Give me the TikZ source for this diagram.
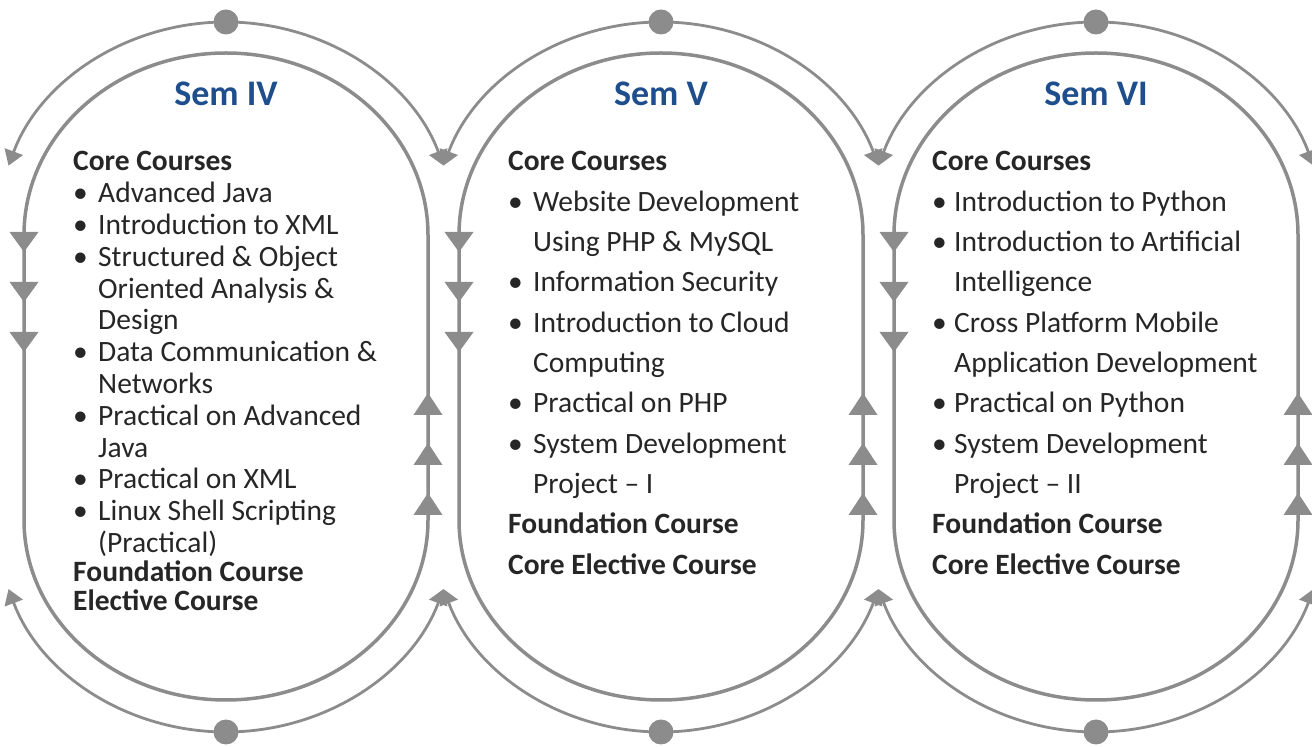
\documentclass[tikz,border=0pt]{standalone}
\usepackage{fontspec}
\setmainfont{Carlito}
\usetikzlibrary{arrows.meta}
\definecolor{lg}{HTML}{8C8C8C}
\definecolor{semblue}{HTML}{1F4E8C}
\definecolor{txt}{HTML}{262626}
\newcommand\bul{\makebox[25pt][l]{•}}
\newcommand\bulc{\makebox[22pt][l]{•}}
\newcommand\ind{\hspace*{25pt}}
\newcommand\indc{\hspace*{22pt}}
\begin{document}
\begin{tikzpicture}[x=1pt,y=1pt,
  innerline/.style={draw=lg, line width=3.5pt},
  outerarc/.style={draw=lg, line width=2.8pt, -{Triangle[width=19pt,length=15pt]}},
  dot/.style={circle, fill=lg, minimum size=25pt, inner sep=0pt},
  semtitle/.style={font=\fontsize{36}{40}\selectfont\bfseries, text=semblue, anchor=base, inner sep=0pt},
  txtline/.style={font=\fontsize{29.5}{34}\selectfont, text=txt, anchor=base west, inner sep=0pt},
  dtri/.pic={\fill[lg] (-14.5,20) -- (14.5,20) -- (0,0) -- cycle;},
  utri/.pic={\fill[lg] (-14.5,-22) -- (14.5,-22) -- (0,0) -- cycle;}
]
\useasboundingbox (0,0) rectangle (1312,747);
\clip (0,0) rectangle (1312,747);
\foreach \c/\n/\s in {226/a/IV,661/b/V,1096/c/VI}{
  \draw[innerline] (\c-202,227) -- (\c-202,512)
     arc[start angle=180,end angle=0,x radius=202,y radius=182]
     -- (\c+202,227)
     arc[start angle=0,end angle=-180,x radius=202,y radius=180] -- cycle;
  \coordinate (top\n) at (\c,725);
  \coordinate (bot\n) at (\c,15);
  \draw[outerarc] (top\n) arc[start angle=90,end angle=161,x radius=230,y radius=213];
  \draw[outerarc] (top\n) arc[start angle=90,end angle=19,x radius=230,y radius=213];
  \draw[outerarc] (bot\n) arc[start angle=270,end angle=199,x radius=230,y radius=212];
  \draw[outerarc] (bot\n) arc[start angle=270,end angle=341,x radius=230,y radius=212];
  \node[dot] (dt\n) at (top\n) {};
  \node[dot] (db\n) at (bot\n) {};
  \foreach \yy in {495,445,395} \pic at (\c-202,\yy) {dtri};
  \foreach \yy in {354,304,254} \pic at (\c+202,\yy) {utri};
  \node[semtitle] (title\n) at (\c,641) {Sem \s};
}
% Sem IV
\foreach \t [count=\i] in {{\bfseries Core Courses},{\bul Advanced Java},{\bul Introduction to XML},{\bul Structured \& Object},{\ind Oriented Analysis \&},{\ind Design},{\bul Data Communication \&},{\ind Networks},{\bul Practical on Advanced},{\ind Java},{\bul Practical on XML},{\bul Linux Shell Scripting},{\ind (Practical)}}
  \node[txtline] (a\i) at (73,{576-(\i-1)*31.8}) {\t};
\node[txtline] (a14) at (73,165) {\bfseries Foundation Course};
\node[txtline] (a15) at (73,136) {\bfseries Elective Course};
% Sem V
\foreach \t [count=\i] in {{\bfseries Core Courses},{\bul Website Development},{\ind Using PHP \& MySQL},{\bul Information Security},{\bul Introduction to Cloud},{\ind Computing},{\bul Practical on PHP},{\bul System Development},{\ind Project – I},{\bfseries Foundation Course},{\bfseries Core Elective Course}}
  \node[txtline] (b\i) at (508,{576-(\i-1)*40.33}) {\t};
% Sem VI
\foreach \t [count=\i] in {{\bfseries Core Courses},{\bulc Introduction to Python},{\bulc Introduction to Artificial},{\indc Intelligence},{\bulc Cross Platform Mobile},{\indc Application Development},{\bulc Practical on Python},{\bulc System Development},{\indc Project – II},{\bfseries Foundation Course},{\bfseries Core Elective Course}}
  \node[txtline] (c\i) at (932,{576-(\i-1)*40.33}) {\t};
\end{tikzpicture}
\end{document}
